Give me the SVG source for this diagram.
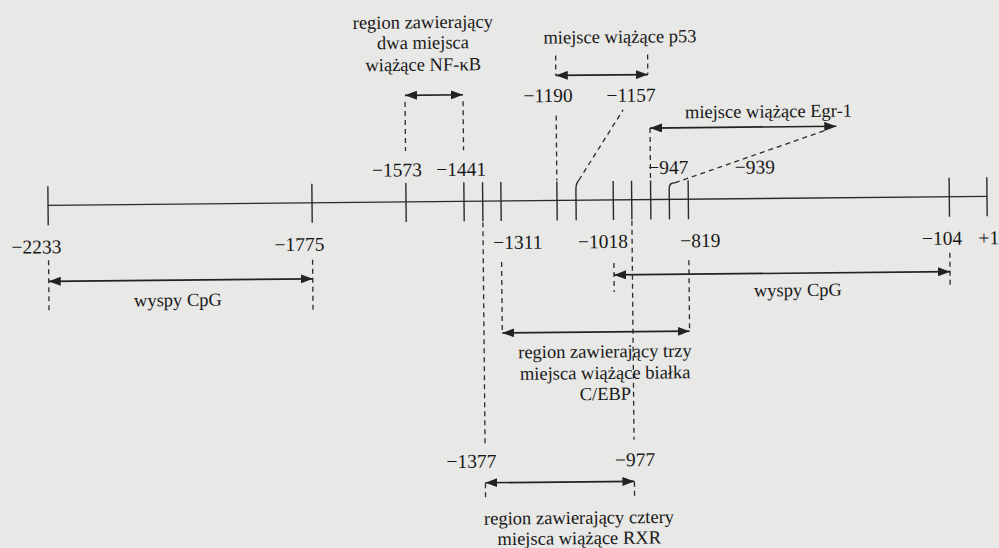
<svg xmlns="http://www.w3.org/2000/svg" width="999" height="548" viewBox="0 0 999 548">
<style>
.t{font-family:"Liberation Serif","Times New Roman",serif;font-size:18.5px;fill:#181818;text-anchor:middle}
.n{font-family:"Liberation Serif","Times New Roman",serif;font-size:19.5px;fill:#181818;text-anchor:middle}
.ax{stroke:#2a2a2a;stroke-width:1.4;fill:none}
.tk{stroke:#2a2a2a;stroke-width:1.4;fill:none}
.ds{stroke:#2a2a2a;stroke-width:1.3;stroke-dasharray:5 4;fill:none}
.ar{stroke:#222;stroke-width:1.7;fill:none;marker-start:url(#ah);marker-end:url(#ah)}
</style>
<defs>
<marker id="ah" viewBox="0 0 12 9" refX="12" refY="4.5" markerWidth="12" markerHeight="9" markerUnits="userSpaceOnUse" orient="auto-start-reverse">
<path d="M0,0 L12,4.5 L0,9 z" fill="#222"/>
</marker>
</defs>
<rect width="999" height="548" fill="#e8e8e6"/>
<g transform="rotate(-0.55 500 200)">
<g id="axis">
<path class="ax" d="M48,201 H987"/>
<path class="tk" d="M48,182 V221 M312,182 V221 M406,182 V221 M464,182 V221 M482.7,182 V221 M501,182 V221 M557,182 V221 M613.3,182 V221 M631.7,182 V221 M650.7,182 V221 M688.3,182 V221 M949.3,182 V221 M987,182 V221"/>
<path class="tk" d="M576,221 V190 Q576,184.5 579,181"/>
<path class="tk" d="M669.3,221 V190 Q669.3,184.5 675,184.5"/>
</g>
<g id="axis-labels">
<text class="n" x="397.2" y="175.5">−1573</text>
<text class="n" x="461.5" y="175.5">−1441</text>
<text class="n" x="668.5" y="175.5">−947</text>
<text class="n" x="755" y="176">−939</text>
<text class="n" x="549" y="102.5">−1190</text>
<text class="n" x="632" y="103">−1157</text>
<text class="n" x="36" y="249">−2233</text>
<text class="n" x="299" y="249">−1775</text>
<text class="n" x="517.5" y="249">−1311</text>
<text class="n" x="602.5" y="249">−1018</text>
<text class="n" x="700" y="249">−819</text>
<text class="n" x="941.7" y="249">−104</text>
<text class="n" x="978" y="249" style="text-anchor:start">+1</text>
<text class="n" x="469" y="467.5">−1377</text>
<text class="n" x="632.5" y="467.5">−977</text>
</g>
<g id="connectors">
<path class="ds" d="M406,101 V150 M464,101 V150"/>
<path class="ar" d="M406,94.4 H464"/>
<path class="ds" d="M557,56 V76 M649,56 V76 M557,116 V181"/>
<path class="ar" d="M557,76 H649"/>
<path class="ds" d="M579,181 L624,111"/>
<path class="ds" d="M650.7,129.5 V182"/>
<path class="ar" d="M650.7,129.5 H837"/>
<path class="ds" d="M675,184.5 L827.4,133"/>
<path class="ds" d="M48,256 V309 M312,258 V310"/>
<path class="ar" d="M48,277 H312"/>
<path class="ds" d="M613.3,264 V293 M949.3,257 V293"/>
<path class="ar" d="M613.3,276 H949.3"/>
<path class="ds" d="M482.7,222 V445 M631.7,222 V441"/>
<path class="ds" d="M501,262 V333 M688.3,262 V333"/>
<path class="ar" d="M501,333 H688.3"/>
<path class="ar" d="M482.7,482.6 H631.7"/>
<path class="ds" d="M482.7,483 V500 M631.7,483 V500"/>
</g>
<g id="nfkb">
<text class="t" x="424.5" y="27.5">region zawierający</text>
<text class="t" x="424.5" y="48">dwa miejsca</text>
<text class="t" x="424.5" y="70">wiążące NF-κB</text>
</g>
<g id="p53">
<text class="t" x="621.5" y="44">miejsce wiążące p53</text>
</g>
<g id="egr1">
<text class="t" x="769.3" y="120">miejsce wiążące Egr-1</text>
</g>
<g id="cpg-left">
<text class="t" x="177" y="303">wyspy CpG</text>
</g>
<g id="cpg-right">
<text class="t" x="797" y="299">wyspy CpG</text>
</g>
<g id="cebp">
<text class="t" x="603.5" y="358.5">region zawierający trzy</text>
<text class="t" x="603.5" y="380">miejsca wiążące białka</text>
<text class="t" x="603.5" y="401">C/EBP</text>
</g>
<g id="rxr">
<text class="t" x="576" y="524.5">region zawierający cztery</text>
<text class="t" x="576" y="545">miejsca wiążące RXR</text>
</g>
</g>
</svg>
